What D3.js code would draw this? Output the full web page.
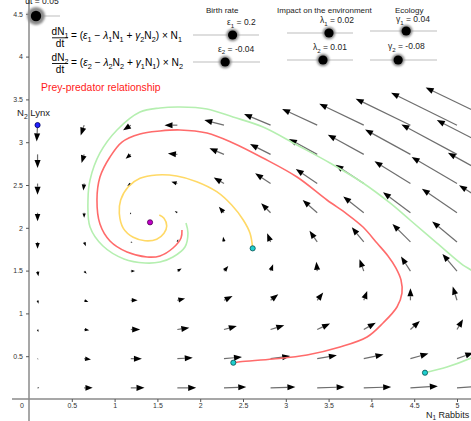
<!DOCTYPE html>
<html><head><meta charset="utf-8">
<script src="https://cdn.jsdelivr.net/npm/d3@7"></script>
<style>
html,body{margin:0;padding:0;background:#fff;overflow:hidden;}
svg{display:block;}
text{font-family:"Liberation Sans",Arial,sans-serif;}
</style></head><body>
<svg id="c" width="471" height="421"></svg>
<script>
// ---------- data ----------
const n1Grid = [0.1, 0.644, 1.189, 1.733, 2.278, 2.822, 3.367, 3.911, 4.456, 5.0, 5.544];
const n2Grid = [0.13, 0.471, 0.812, 1.153, 1.494, 1.835, 2.176, 2.517, 2.858, 3.199];
// field components (dN1/dt, dN2/dt) read per grid row (bottom row first)
const dN1 = [
  [0.02, 0.10, 0.16, 0.22, 0.26, 0.29, 0.32, 0.32, 0.32, 0.30, 0.28],
  [0.01, 0.08, 0.13, 0.18, 0.21, 0.23, 0.23, 0.23, 0.21, 0.19, 0.14],
  [0.01, 0.06, 0.11, 0.14, 0.15, 0.16, 0.15, 0.14, 0.11, 0.07, 0.01],
  [0.01, 0.05, 0.08, 0.09, 0.10, 0.09, 0.07, 0.04, 0.00, -0.05, -0.12],
  [0.01, 0.03, 0.05, 0.05, 0.05, 0.03, -0.01, -0.05, -0.11, -0.17, -0.25],
  [0.00, 0.02, 0.02, 0.01, -0.01, -0.04, -0.09, -0.14, -0.21, -0.29, -0.38],
  [0.00, 0.00, -0.01, -0.03, -0.06, -0.11, -0.17, -0.24, -0.32, -0.41, -0.52],
  [0.00, -0.01, -0.04, -0.07, -0.12, -0.18, -0.25, -0.33, -0.42, -0.53, -0.65],
  [0.00, -0.03, -0.06, -0.11, -0.17, -0.24, -0.33, -0.42, -0.53, -0.65, -0.78],
  [-0.01, -0.04, -0.09, -0.15, -0.23, -0.31, -0.41, -0.52, -0.64, -0.77, -0.91]
];
const dN2 = [
  [0.00, 0.00, 0.00, 0.00, 0.01, 0.01, 0.01, 0.01, 0.02, 0.02, 0.02],
  [-0.01, -0.01, 0.00, 0.01, 0.02, 0.03, 0.04, 0.05, 0.06, 0.07, 0.08],
  [-0.03, -0.01, 0.00, 0.02, 0.04, 0.05, 0.07, 0.08, 0.10, 0.12, 0.13],
  [-0.04, -0.02, 0.00, 0.02, 0.05, 0.07, 0.09, 0.11, 0.14, 0.16, 0.18],
  [-0.06, -0.03, 0.00, 0.03, 0.06, 0.08, 0.11, 0.14, 0.17, 0.20, 0.23],
  [-0.08, -0.05, -0.01, 0.03, 0.06, 0.10, 0.13, 0.17, 0.21, 0.24, 0.28],
  [-0.10, -0.06, -0.02, 0.02, 0.07, 0.11, 0.15, 0.19, 0.24, 0.28, 0.32],
  [-0.13, -0.08, -0.03, 0.02, 0.07, 0.12, 0.17, 0.22, 0.26, 0.31, 0.36],
  [-0.16, -0.10, -0.05, 0.01, 0.07, 0.12, 0.18, 0.23, 0.29, 0.35, 0.40],
  [-0.19, -0.12, -0.06, 0.00, 0.06, 0.13, 0.19, 0.25, 0.31, 0.38, 0.44]
];
const trajYellow = [[2.613,1.76],[2.582,1.936],[2.503,2.091],[2.368,2.266],[2.193,2.422],[1.959,2.539],[1.725,2.605],[1.492,2.617],[1.297,2.578],[1.16,2.48],[1.071,2.325],[1.055,2.169],[1.102,1.994],[1.218,1.889],[1.355,1.849],[1.492,1.866],[1.577,1.936],[1.609,2.021],[1.577,2.111],[1.522,2.15]];
const trajRed = [[2.387,0.424],[2.465,0.436],[2.85,0.467],[3.248,0.514],[3.633,0.607],[3.949,0.724],[4.136,0.888],[4.299,1.075],[4.357,1.238],[4.346,1.39],[4.287,1.53],[4.194,1.671],[4.065,1.822],[3.902,2.009],[3.715,2.161],[3.481,2.325],[3.131,2.593],[2.734,2.815],[2.383,2.991],[2.079,3.107],[1.764,3.143],[1.53,3.131],[1.297,3.096],[1.086,3.002],[0.946,2.827],[0.829,2.593],[0.794,2.325],[0.829,2.044],[0.946,1.846],[1.145,1.717],[1.379,1.659],[1.53,1.671],[1.682,1.764],[1.776,1.881],[1.787,1.974]];
const trajGreen = [[4.626,0.307],[4.883,0.374],[5.164,0.479],[5.45,0.62],[5.65,0.82],[5.7,1.0],[5.6,1.2],[5.4,1.33],[5.164,1.507],[5.07,1.565],[4.766,1.822],[4.451,2.091],[4.217,2.29],[3.902,2.523],[3.516,2.757],[3.131,2.967],[2.734,3.178],[2.383,3.294],[2.079,3.388],[1.764,3.411],[1.53,3.4],[1.297,3.353],[1.028,3.143],[0.829,2.874],[0.713,2.558],[0.689,2.325],[0.713,2.009],[0.864,1.787],[1.11,1.636],[1.355,1.589],[1.53,1.6],[1.682,1.659],[1.822,1.776],[1.857,1.939],[1.834,2.056]];
const startPoints = [[2.613,1.76],[2.387,0.424],[4.626,0.307]];
const centerPoint = [1.414, 2.064];
const cornerPoint = [0.1, 3.2];
const xTicks = [0.5,1,1.5,2,2.5,3,3.5,4,4.5,5];
const yTicks = [0.5,1,1.5,2,2.5,3,3.5,4,4.5];
const epsValues = [0.2, -0.04];
const lambdaValues = [0.02, 0.01];
const gammaValues = [0.04, -0.08];
const dtValue = 0.05;

// ---------- scales ----------
const W = 471, H = 421;
const x = d3.scaleLinear().domain([0, 5]).range([29, 457]);
const y = d3.scaleLinear().domain([0, 4.5]).range([399, 13.8]);
const svg = d3.select("#c");

const defs = svg.append("defs");
defs.append("filter").attr("id","blur").attr("x","-50%").attr("y","-50%").attr("width","200%").attr("height","200%")
  .append("feGaussianBlur").attr("stdDeviation", 1.3);

// ---------- axes ----------
svg.append("line").attr("x1", 12).attr("x2", W).attr("y1", y(0)).attr("y2", y(0))
  .attr("stroke", "#8a8a8a").attr("stroke-width", 1.5);
svg.append("line").attr("x1", x(0)).attr("x2", x(0)).attr("y1", 0).attr("y2", H)
  .attr("stroke", "#8a8a8a").attr("stroke-width", 1.5);

const gx = svg.append("g").attr("transform", `translate(0,${y(0)})`)
  .call(d3.axisBottom(x).tickValues(xTicks).tickSize(3).tickPadding(1.5).tickFormat(d => d));
const gy = svg.append("g").attr("transform", `translate(${x(0)},0)`)
  .call(d3.axisLeft(y).tickValues(yTicks).tickSize(3).tickPadding(3).tickFormat(d => d));
[gx, gy].forEach(g => {
  g.select(".domain").remove();
  g.selectAll("line").attr("stroke", "#555");
  g.selectAll("text").attr("font-size", 7).attr("fill", "#333")
    .attr("font-family", '"Liberation Sans",Arial,sans-serif');
});
svg.append("text").attr("x", 22).attr("y", 408).attr("text-anchor", "middle")
  .attr("font-size", 7).attr("fill", "#333").text("0");

// ---------- vector field ----------
const gf = svg.append("g");
n2Grid.forEach((n2, j) => {
  n1Grid.forEach((n1, i) => {
    const x0 = x(n1), y0 = y(n2);
    const x1 = x(n1 + dN1[j][i]), y1 = y(n2 + dN2[j][i]);
    const dx = x1 - x0, dy = y1 - y0;
    const len = Math.hypot(dx, dy);
    if (len < 0.4) {
      gf.append("circle").attr("cx", x0).attr("cy", y0).attr("r", 0.7).attr("fill", "#222");
      return;
    }
    const ux = dx / len, uy = dy / len;
    const hl = Math.min(8, len * 0.85), hw = hl * 0.38;
    const bx = x1 - ux * hl, by = y1 - uy * hl;
    if (len > hl) {
      gf.append("line").attr("x1", x0).attr("y1", y0).attr("x2", bx).attr("y2", by)
        .attr("stroke", "#6e6e6e").attr("stroke-width", 1.2);
    }
    gf.append("path")
      .attr("d", `M${x1},${y1}L${bx - uy * hw},${by + ux * hw}L${bx + uy * hw},${by - ux * hw}Z`)
      .attr("fill", "#000");
  });
});

// ---------- trajectories ----------
const line = d3.line().x(d => x(d[0])).y(d => y(d[1])).curve(d3.curveCatmullRom.alpha(0.5));
[[trajGreen, "#b5efb0"], [trajRed, "#ff6b6b"], [trajYellow, "#ffd966"]].forEach(([t, c]) => {
  svg.append("path").attr("d", line(t)).attr("fill", "none").attr("stroke", c).attr("stroke-width", 1.6);
});

// ---------- points ----------
startPoints.forEach(p => {
  svg.append("circle").attr("cx", x(p[0])).attr("cy", y(p[1])).attr("r", 2.6)
    .attr("fill", "#1ecfcf").attr("stroke", "#0a5050").attr("stroke-width", 0.8);
});
svg.append("circle").attr("cx", x(centerPoint[0])).attr("cy", y(centerPoint[1])).attr("r", 2.6)
  .attr("fill", "#c000c8").attr("stroke", "#500050").attr("stroke-width", 0.8);
svg.append("circle").attr("cx", x(cornerPoint[0])).attr("cy", y(cornerPoint[1])).attr("r", 2.6)
  .attr("fill", "#2020ff").attr("stroke", "#000060").attr("stroke-width", 0.8);

// ---------- texts ----------
function rich(parent, x0, y0, parts, size, opts = {}) {
  const t = parent.append("text").attr("x", x0).attr("y", y0).attr("font-size", size)
    .attr("fill", opts.fill || "#000");
  if (opts.anchor) t.attr("text-anchor", opts.anchor);
  if (opts.family) t.attr("font-family", opts.family);
  let off = 0;
  parts.forEach(p => {
    const sub = Array.isArray(p);
    const it = (typeof p === "object" && !sub);
    const txt = sub ? p[0] : (it ? p.i : p);
    const target = sub ? size * 0.3 : 0;
    const s = t.append("tspan").text(txt).attr("dy", target - off);
    if (sub) s.attr("font-size", size * 0.72);
    if (it) s.attr("font-style", "italic");
    off = target;
  });
  if (opts.len) t.attr("textLength", opts.len).attr("lengthAdjust", "spacingAndGlyphs");
  return t;
}

svg.append("text").attr("x", 41).attr("y", 91).attr("font-size", 10.4).attr("fill", "#ff1a1a")
  .text("Prey-predator relationship");
rich(svg, 17, 116, ["N", ["2"], " Lynx"], 9.5, { fill: "#222" });
rich(svg, 426, 417.5, ["N", ["1"], " Rabbits"], 9, { fill: "#222" });

// equations
const eqFont = '"DejaVu Sans",sans-serif';
function fraction(cx, numY, barY, denY, num) {
  rich(svg, cx, numY, ["dN", [num]], 10, { anchor: "middle", family: eqFont });
  svg.append("line").attr("x1", cx - 8).attr("x2", cx + 8).attr("y1", barY).attr("y2", barY)
    .attr("stroke", "#000").attr("stroke-width", 0.9);
  rich(svg, cx, denY, ["dt"], 10, { anchor: "middle", family: eqFont });
}
fraction(60, 34.5, 37.8, 46.5, "1");
rich(svg, 71, 38.5, ["= (", {i:"ε"}, ["1"], " − ", {i:"λ"}, ["1"], "N", ["1"], " + ", {i:"γ"}, ["2"], "N", ["2"], ") × N", ["1"]], 10, { family: eqFont, len: 111 });
fraction(60, 60.5, 63.5, 72.5, "2");
rich(svg, 71, 66, ["= (", {i:"ε"}, ["2"], " − ", {i:"λ"}, ["2"], "N", ["2"], " + ", {i:"γ"}, ["1"], "N", ["1"], ") × N", ["2"]], 10, { family: eqFont, len: 112 });

// group headings
svg.append("text").attr("x", 206).attr("y", 12.5).attr("font-size", 8).attr("fill", "#222").text("Birth rate");
svg.append("text").attr("x", 277).attr("y", 12.5).attr("font-size", 8).attr("fill", "#222").text("Impact on the environment");
svg.append("text").attr("x", 395).attr("y", 12.5).attr("font-size", 8).attr("fill", "#222").text("Ecology");

// sliders
function slider(x1, x2, yy, dom, val, r, halo) {
  const s = d3.scaleLinear().domain(dom).range([x1, x2]);
  svg.append("line").attr("x1", x1).attr("x2", x2).attr("y1", yy).attr("y2", yy)
    .attr("stroke", "#bdbdbd").attr("stroke-width", 1);
  svg.append("circle").attr("cx", s(val)).attr("cy", yy).attr("r", halo)
    .attr("fill", "#8a8a8a").attr("filter", "url(#blur)");
  svg.append("circle").attr("cx", s(val)).attr("cy", yy).attr("r", r).attr("fill", "#000");
}
const fmt = v => (v < 0 ? "-" : "") + String(Math.abs(v));
slider(193, 259, 35, [-1, 1], epsValues[0], 4.6, 6.3);
slider(193, 260, 62, [-1, 1], epsValues[1], 4.6, 6.3);
slider(287, 353, 33, [-0.05, 0.06], lambdaValues[0], 4.6, 6.3);
slider(287, 353, 60, [-0.05, 0.06], lambdaValues[1], 4.6, 6.3);
slider(370, 437, 31, [-0.5, 0.5], gammaValues[0], 4.6, 6.3);
slider(370, 437, 60, [-0.5, 0.5], gammaValues[1], 4.6, 6.3);
slider(28, 60, 16, [0, 0.2], dtValue, 5.2, 9);

rich(svg, 227, 25, ["ε", ["1"], " = " + fmt(epsValues[0])], 8.5, { fill: "#222" });
rich(svg, 218, 51.5, ["ε", ["2"], " = " + fmt(epsValues[1])], 8.5, { fill: "#222" });
rich(svg, 320, 23, ["λ", ["1"], " = " + fmt(lambdaValues[0])], 8.5, { fill: "#222" });
rich(svg, 313, 50, ["λ", ["2"], " = " + fmt(lambdaValues[1])], 8.5, { fill: "#222" });
rich(svg, 396, 22, ["γ", ["1"], " = " + fmt(gammaValues[0])], 8.5, { fill: "#222" });
rich(svg, 388, 49, ["γ", ["2"], " = " + fmt(gammaValues[1])], 8.5, { fill: "#222" });
svg.append("text").attr("x", 42).attr("y", 4).attr("text-anchor", "middle").attr("font-size", 8.5)
  .attr("fill", "#222").text("dt = " + dtValue.toFixed(2));
</script>
</body></html>
